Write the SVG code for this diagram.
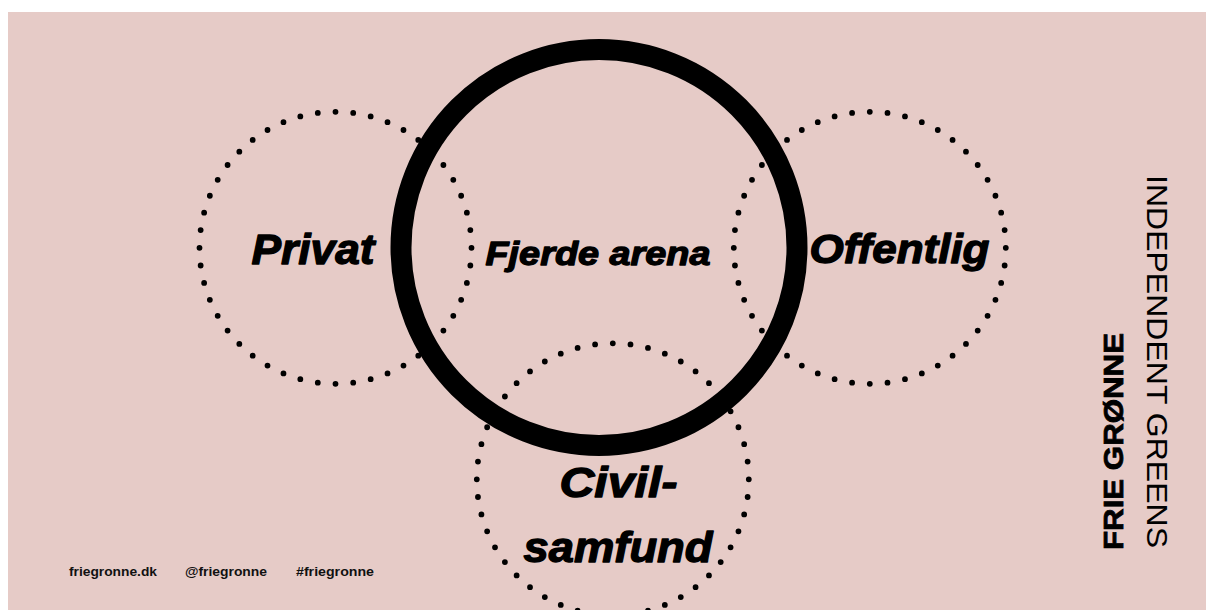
<svg xmlns="http://www.w3.org/2000/svg" width="1206" height="610" viewBox="0 0 1206 610">
<style>
.dot{fill:none;stroke:#000;stroke-width:5.8;stroke-linecap:round;stroke-dasharray:0 1}
.lbl{font-family:"Liberation Sans",Arial,sans-serif;font-weight:bold;font-style:italic;fill:#000;stroke:#000;stroke-width:1.3;stroke-linejoin:round;text-anchor:start}
.foot{font-family:"Liberation Sans",Arial,sans-serif;font-weight:bold;font-size:13.5px;fill:#111}
</style>
<rect x="0" y="0" width="1206" height="610" fill="#fff"/>
<rect x="8" y="12" width="1198" height="598" fill="#E6CBC7"/>
<g id="fjerde-arena">
<circle cx="599" cy="247.5" r="198" fill="none" stroke="#000" stroke-width="21"/>
<text class="lbl" x="485.5" y="265" font-size="34" textLength="225" lengthAdjust="spacingAndGlyphs">Fjerde arena</text>
</g>
<g id="privat">
<circle class="dot" cx="335.5" cy="247.8" r="136" pathLength="48"/>
<text class="lbl" x="251.5" y="264" font-size="42" textLength="123" lengthAdjust="spacingAndGlyphs">Privat</text>
</g>
<g id="offentlig">
<circle class="dot" cx="869.8" cy="247.8" r="136" pathLength="48"/>
<text class="lbl" x="809.5" y="263" font-size="40" textLength="180" lengthAdjust="spacingAndGlyphs">Offentlig</text>
</g>
<g id="civilsamfund">
<circle class="dot" cx="612.8" cy="479.3" r="136" pathLength="48"/>
<text class="lbl" x="559.5" y="497" font-size="42" textLength="118" lengthAdjust="spacingAndGlyphs">Civil-</text>
<text class="lbl" x="523.5" y="562" font-size="42" textLength="189" lengthAdjust="spacingAndGlyphs">samfund</text>
</g>
<g id="connectors"></g>
<g id="footer">
<text class="foot" x="69" y="576" textLength="88" lengthAdjust="spacingAndGlyphs">friegronne.dk</text>
<text class="foot" x="185" y="576" textLength="82" lengthAdjust="spacingAndGlyphs">@friegronne</text>
<text class="foot" x="296" y="576" textLength="78" lengthAdjust="spacingAndGlyphs">#friegronne</text>
</g>
<g id="logo">
<text transform="translate(1123,550) rotate(-90)" font-family="'Liberation Sans',Arial,sans-serif" font-weight="bold" font-size="28" fill="#000" stroke="#000" stroke-width="0.8" textLength="217" lengthAdjust="spacingAndGlyphs">FRIE GRØNNE</text>
<text transform="translate(1147,175) rotate(90)" font-family="'Liberation Sans',Arial,sans-serif" font-weight="normal" font-size="29" fill="#000" textLength="373" lengthAdjust="spacingAndGlyphs">INDEPENDENT GREENS</text>
</g>
</svg>
